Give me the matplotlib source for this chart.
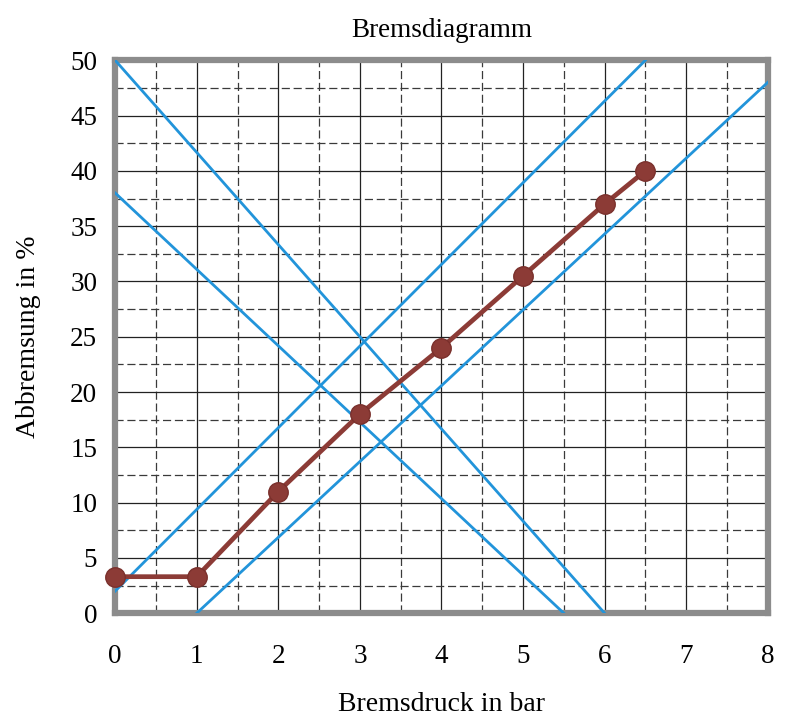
import numpy as np
import matplotlib
matplotlib.use("Agg")
import matplotlib.pyplot as plt
from matplotlib.ticker import MultipleLocator

# measured points (Bremsdruck in bar, Abbremsung in %)
druck = [0, 1, 2, 3, 4, 5, 6, 6.5]
abbremsung = [3.3, 3.3, 11, 18, 24, 30.5, 37, 40]

# blue limit lines, given by their end points
grenz_x = [[0, 6], [0, 5.5], [0, 6.5], [1, 8]]
grenz_y = [[50, 0], [38, 0], [2, 50], [0, 48]]

x_ticks = [0, 1, 2, 3, 4, 5, 6, 7, 8]
y_ticks = [0, 5, 10, 15, 20, 25, 30, 35, 40, 45, 50]

plt.rcParams['font.family'] = ['Liberation Serif', 'DejaVu Serif']

fig = plt.figure(figsize=(7.89, 7.18), dpi=100)
ax = fig.add_axes([0.146, 0.146, 0.827, 0.770])

ax.set_xlim(0, 8)
ax.set_ylim(0, 50)
ax.set_xticks(x_ticks)
ax.set_yticks(y_ticks)
ax.xaxis.set_minor_locator(MultipleLocator(0.5))
ax.yaxis.set_minor_locator(MultipleLocator(2.5))

ax.grid(which='major', color='#222222', linewidth=0.9, linestyle='-')
ax.grid(which='minor', color='#3a3a3a', linewidth=0.9, linestyle=(0, (6.5, 3)))
ax.set_axisbelow(True)

for s in ax.spines.values():
    s.set_color('#8c8c8c')
    s.set_linewidth(4.5)

ax.tick_params(which='both', length=0)
ax.tick_params(axis='x', pad=22, labelsize=19.5)
ax.tick_params(axis='y', pad=13, labelsize=19.5)

for gx, gy in zip(grenz_x, grenz_y):
    ax.plot(gx, gy, color='#2294da', linewidth=2.0, zorder=3)

ax.plot(druck, abbremsung, color='#8c3b36', linewidth=3.4, marker='o',
        markersize=14, markerfacecolor='#8c3b36', markeredgecolor='#7a302c',
        zorder=4, clip_on=False)

ax.set_title('Bremsdiagramm', fontsize=19.5, pad=17)
ax.set_xlabel('Bremsdruck in bar', fontsize=20, labelpad=17)
ax.set_ylabel('Abbremsung in %', fontsize=20, labelpad=21)

fig.savefig('out.png', dpi=100, facecolor='white')
